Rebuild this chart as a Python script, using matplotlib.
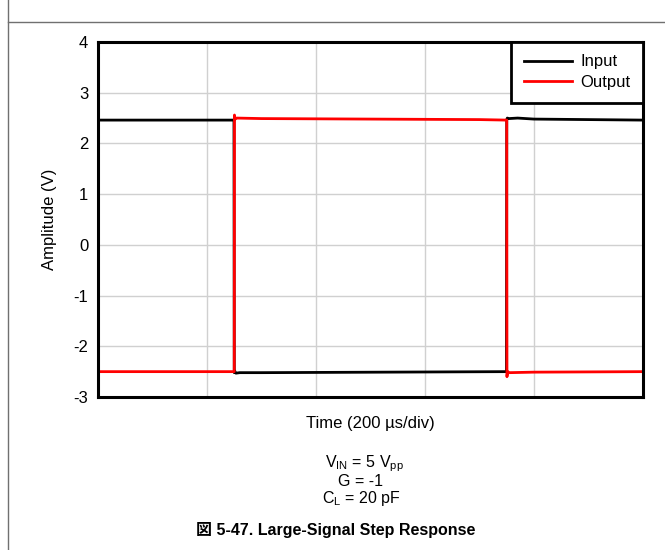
import matplotlib.pyplot as plt
from matplotlib.lines import Line2D

plt.rcParams['font.family'] = ['Liberation Sans', 'Noto Sans CJK JP', 'DejaVu Sans']
plt.rcParams['mathtext.fontset'] = 'custom'
plt.rcParams['mathtext.rm'] = 'Liberation Sans'
plt.rcParams['mathtext.it'] = 'Liberation Sans'
plt.rcParams['axes.unicode_minus'] = False

# time in us, amplitude in V
t_in = [0, 249.5, 250, 251, 253, 260, 300, 749.5, 750, 751, 754, 770, 800, 1000]
v_in = [2.46, 2.46, -2.52, -2.49, -2.53, -2.52, -2.52, -2.50, 2.47, 2.50, 2.49, 2.50, 2.48, 2.46]

t_out = [0, 250, 250.4, 251.5, 255, 300, 700, 750, 750.4, 751.5, 755, 800, 1000]
v_out = [-2.50, -2.50, 2.56, 2.48, 2.50, 2.49, 2.47, 2.46, -2.60, -2.50, -2.52, -2.51, -2.50]

x_ticks = [0, 200, 400, 600, 800, 1000]
y_ticks = [-3, -2, -1, 0, 1, 2, 3, 4]

fig = plt.figure(figsize=(6.65, 5.5), dpi=100)
ax = fig.add_axes([98/665, 1 - 397/550, 545/665, 355/550])

ax.plot(t_in, v_in, color='black', lw=2, label='Input')
ax.plot(t_out, v_out, color='#ff0000', lw=2, label='Output')

ax.set_xlim(0, 1000)
ax.set_ylim(-3, 4)
ax.set_xticks(x_ticks)
ax.set_xticklabels([])
ax.set_yticks(y_ticks)
ax.tick_params(length=0, labelsize=12, pad=7)
ax.grid(True, color='#d0d0d0', lw=1)
for s in ax.spines.values():
    s.set_linewidth(2.2)
ax.set_ylabel('Amplitude (V)', fontsize=12, labelpad=12)
ax.set_xlabel('Time (200 µs/div)', fontsize=12, labelpad=7)

leg = ax.legend(loc='upper right', fontsize=12, frameon=True, fancybox=False,
                framealpha=1, borderaxespad=0, handlelength=2.9, handletextpad=0.5,
                borderpad=0.75, labelspacing=0.35)
leg.get_frame().set_edgecolor('black')
leg.get_frame().set_linewidth(2)

# notes under the plot
fig.text(364/665, 1 - 464/550, r'V$_{\mathrm{IN}}$ = 5 V$_{\mathrm{pp}}$', ha='center', va='center', fontsize=11.5)
fig.text(361/665, 1 - 482/550, 'G = -1', ha='center', va='center', fontsize=11.5)
fig.text(361/665, 1 - 499/550, r'C$_{\mathrm{L}}$ = 20 pF', ha='center', va='center', fontsize=11.5)
fig.text(336/665, 1 - 530/550, '図 5-47. Large-Signal Step Response', ha='center', va='center',
         fontsize=11.5, fontweight='bold')

# page frame lines
fig.add_artist(Line2D([8/665, 8/665], [0, 1], transform=fig.transFigure, color='#707070', lw=1))
fig.add_artist(Line2D([8/665, 1], [1 - 22/550, 1 - 22/550], transform=fig.transFigure, color='#707070', lw=1))

fig.savefig('out.png', dpi=100)
